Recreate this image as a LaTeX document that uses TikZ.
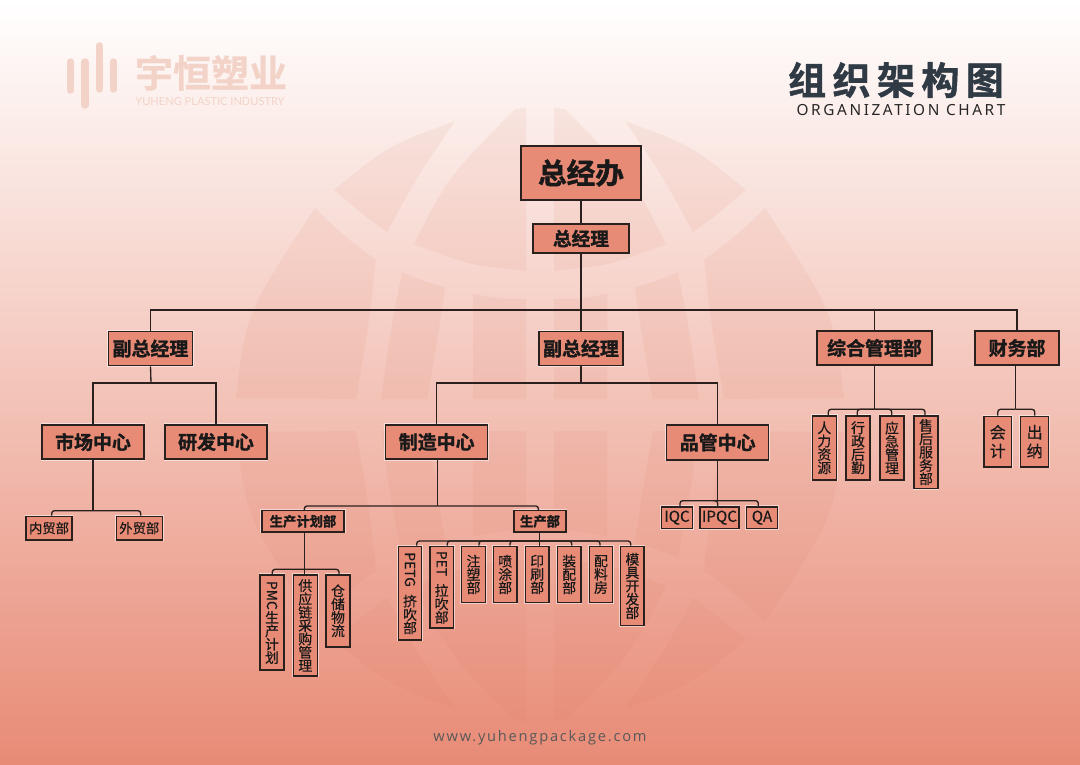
\documentclass[tikz,border=0pt]{standalone}
\usepackage{fontspec}
\newfontfamily\cjk[FakeBold=0.5]{Noto Sans CJK SC}
\newfontfamily\heavy[FakeBold=1.5]{Noto Sans CJK SC Bold}
\newfontfamily\logof[FakeBold=0.6]{Noto Sans CJK SC Bold}
\newfontfamily\latinf{Lato}
\newfontfamily\urlf[LetterSpace=12]{Open Sans}
\newfontfamily\orgf[LetterSpace=17]{Noto Sans}
\newfontfamily\titlef[LetterSpace=17,FakeBold=1.2]{Noto Sans CJK SC Bold}
\definecolor{boxc}{HTML}{E88B76}
\definecolor{linec}{HTML}{2A211F}
\definecolor{logoc}{HTML}{F3D3C8}
\definecolor{titlec}{HTML}{2F3A44}
\definecolor{panelc}{HTML}{D9775C}
\newcommand{\kidfont}{\cjk\fontsize{10.4}{10}\selectfont\lineskiplimit=-10pt\relax}
\newcommand{\bigkid}{\fontsize{12}{12}\selectfont\lineskiplimit=-10pt\relax}
\begin{document}
\begin{tikzpicture}[x=0.75pt,y=-0.75pt]
	\tikzset{
		box/.style={draw=linec, fill=boxc, line width=1.15pt, inner sep=0pt, text=black!90,
			preaction={draw=white, opacity=.5, line width=2pt}},
		link/.style={draw=linec, line width=1pt},
		kidlink/.style={link, rounded corners=2pt},
		panel/.style={fill=panelc, opacity=.09}
	}
	\useasboundingbox (0,0) rectangle (1080,764);
	\shade[top color=white, middle color=boxc!48!white, bottom color=boxc] (0,0) rectangle (1080,764);

	% globe
	\foreach \mx in {1,-1}{
		\foreach \my in {1,-1}{
			\begin{scope}[shift={(540,415)}, xscale=\mx, yscale=\my]
				\fill[panel] (-85,-294) .. controls (-151.5,-269.5) .. (-206,-225) .. controls (-178,-201) .. (-153,-183) .. controls (-123,-238) .. cycle;
				\fill[panel] (-25,-306) -- (-14,-307) -- (-14,-144) .. controls (-71,-150) .. (-126,-171) .. controls (-92,-238) .. cycle;
				\fill[panel] (-225,-207) .. controls (-196,-179) .. (-164,-155) .. controls (-172,-85) .. (-184,-16) -- (-304,-17) .. controls (-294,-102) .. cycle;
				\fill[panel] (-138,-143) .. controls (-117,-134) .. (-95,-128) .. controls (-103,-72) .. (-113,-16) -- (-159,-16) .. controls (-150,-80) .. cycle;
				\fill[panel] (-67,-121) .. controls (-40,-116) .. (-14,-116) -- (-14,-16) -- (-67,-16) -- cycle;
			\end{scope}
		}
	}

	% logo
	\foreach \x/\ya/\yb in {70.5/62/90, 85/62/105, 99.5/46/89, 113.5/62/89}{
		\draw[logoc, line width=5.6pt, line cap=round] (\x,\ya) -- (\x,\yb);
	}
	\node[text=logoc, font=\logof\fontsize{28.5}{30}\selectfont, inner sep=0pt] (logocn) at (211,73) {宇恒塑业};
	\node[text=logoc, font=\latinf\fontsize{8.3}{10}\selectfont, inner sep=0pt] (logoen) at (210,102) {YUHENG PLASTIC INDUSTRY};

	% title
	\node[text=titlec, font=\titlef\fontsize{28.5}{30}\selectfont, inner sep=0pt] (title) at (896,80) {组织架构图};
	\node[text=black!85, font=\orgf\fontsize{11.5}{13}\selectfont, inner sep=0pt] (subtitle) at (901,110) {ORGANIZATION CHART};
	\node[text=black!65, font=\urlf\fontsize{11}{12}\selectfont, inner sep=0pt] (site) at (540,738) {www.yuhengpackage.com};

	% main boxes
	\foreach \nm/\x/\y/\w/\h/\sz/\txt in {
		zjb/581/173/120/54/21.5/总经办,
		zjl/581/238.5/96/29/14/总经理,
		fza/150.5/348.5/84/34/14.2/副总经理,
		fzb/581/348.5/84/34/14.2/副总经理,
		zhb/874.5/348/115/34/14.2/综合管理部,
		cwb/1017/348/84/34/14.2/财务部,
		scz/93/442/102/34.5/14.2/市场中心,
		yfz/216/442/102/34.5/14.2/研发中心,
		zzz/436.7/442/102/34.5/14.2/制造中心,
		pgz/717.7/442.5/102/34.5/14.2/品管中心,
		jhb/303/521.3/82.5/21.5/10/生产计划部,
		scb/540/521.3/52/21.5/10/生产部
	}{
		\node[box, minimum width=\w*0.75pt, minimum height=\h*0.75pt, font=\heavy\fontsize{\sz}{\sz}\selectfont] (\nm) at (\x,\y) {\txt};
	}

	% branch points
	\coordinate (bustop) at (581,310);
	\coordinate (hubfa) at (151,383);
	\coordinate (hubfb) at (581,383);
	\coordinate (hubsc) at (93,510.7);
	\coordinate (hubzz) at (437.3,506);
	\coordinate (hubpg) at (717.7,500.7);
	\coordinate (hubjh) at (304.3,569.3);
	\coordinate (hubsb) at (539.7,541);
	\coordinate (hubzh) at (874.7,409.3);
	\coordinate (hubcw) at (1015.7,409.3);

	\draw[link] (zjb) -- (zjl);
	\draw[link] (zjl) -- (fzb);
	\draw[link] (fza.north) |- (bustop) -| (zhb.north);
	\draw[link] (bustop) -| (cwb.north);
	\draw[link] (fza.south) -- (hubfa);
	\draw[link] (fzb) -- (hubfb);
	\draw[link] (scz.north) |- (hubfa) -| (yfz.north);
	\draw[link] (zzz.north) |- (hubfb) -| (pgz.north);
	\draw[link] (scz.south) -- (hubsc);
	\draw[link] (zzz.south -| hubzz) -- (hubzz);
	\draw[link] (pgz.south) -- (hubpg);
	\draw[link] (zhb.south -| hubzh) -- (hubzh);
	\draw[link] (cwb.south -| hubcw) -- (hubcw);
	\draw[kidlink] (hubzz) -| ([xshift=1pt]jhb.north);
	\draw[kidlink] (hubzz) -| ([xshift=-1.2pt]scb.north);
	\draw[link] (jhb.south -| hubjh) -- (hubjh);
	\draw[link] (scb.south -| hubsb) -- (hubsb);

	% horizontal boxes of the lowest level
	\foreach \nm/\x/\w/\y/\h/\hb/\dx/\fs/\txt in {
		nmb/49/46/515.7/23.3/hubsc/2.7/10/内贸部,
		wmb/139.3/46/515.7/23.3/hubsc/1.4/10/外贸部,
		iqc/677/30.6/506/21.7/hubpg/3/11.4/IQC,
		ipq/719.5/39/506/21.7/hubpg/-1.8/11.4/IPQC,
		qab/762/30.6/506/21.7/hubpg/-3.7/11.4/QA
	}{
		\node[box, anchor=north, minimum width=\w*0.75pt, minimum height=\h*0.75pt, font=\cjk\fontsize{\fs}{\fs}\selectfont] (\nm) at (\x,\y) {\txt};
		\draw[kidlink] (\hb) -| ([xshift=\dx*0.75pt]\nm.north);
	}

	% vertical boxes
	\foreach \nm/\x/\w/\y/\h/\txt in {
		pmc/272/24/574/95.3/{\rotatebox{-90}{PMC}\\生\\产\\计\\划},
		gyl/305.3/24/574/101.3/{供\\应\\链\\采\\购\\管\\理},
		ccw/338/24/574/72/{仓\\储\\物\\流},
		ptg/410/23.4/545.7/93.6/{\rotatebox{-90}{PETG}\\[5pt]挤\\吹\\部},
		pet/441.7/23.4/545.7/81.6/{\rotatebox{-90}{PET}\\[5pt]拉\\吹\\部},
		zsb/473.5/23.6/545.7/56/{注\\塑\\部},
		ptb/505.2/23.6/545.7/56/{喷\\涂\\部},
		ysb/537.2/23.6/545.7/56/{印\\刷\\部},
		zpb/569.2/23.6/545.7/56/{装\\配\\部},
		plf/601/23.4/545.7/56/{配\\料\\房},
		mjk/632.4/23.4/545.7/79/{模\\具\\开\\发\\部},
		rlz/824.3/24/415/64/{人\\力\\资\\源},
		xzh/858/24.3/415/64/{行\\政\\后\\勤},
		yjg/892/24/415/64/{应\\急\\管\\理},
		shf/926/24/415/72.7/{售\\后\\服\\务\\部},
		kjb/997.8/27.7/415.7/50.3/{\bigkid 会\\[4pt]计},
		cnb/1034.7/28/415.7/50.3/{\bigkid 出\\[4pt]纳}
	}{
		\node[box, anchor=north, align=center, text width=\w*0.75pt, minimum height=\h*0.75pt, font=\kidfont] (\nm) at (\x,\y) {\txt};
	}
	\foreach \nm/\hb/\dx in {pmc/hubjh/0.3, gyl/hubjh/-1, ccw/hubjh/1, ptg/hubsb/6.7, pet/hubsb/5.6, zsb/hubsb/5.5, ptb/hubsb/4.8, ysb/hubsb/2.5, zpb/hubsb/2.5, plf/hubsb/-1, mjk/hubsb/-1.7, rlz/hubzh/4, xzh/hubzh/-0.7, yjg/hubzh/-0.3, shf/hubzh/-1, kjb/hubcw/0, cnb/hubcw/0}{
		\draw[kidlink] (\hb) -| ([xshift=\dx*0.75pt]\nm.north);
	}
\end{tikzpicture}
\end{document}
